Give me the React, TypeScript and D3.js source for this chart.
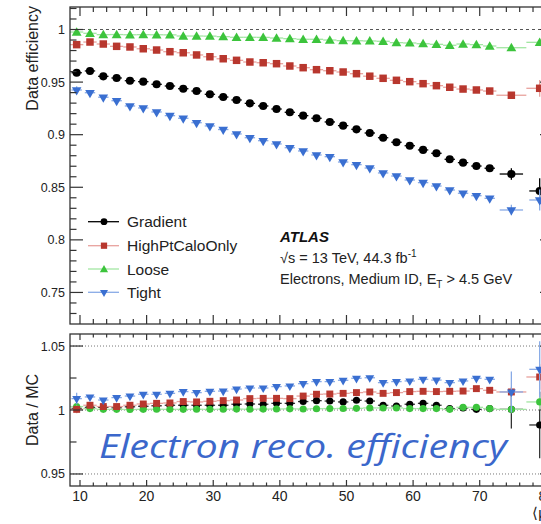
import { useRef, useEffect } from 'react'
import * as d3 from 'd3'

// bins in <mu>
const binCenters = [9.5, 11.5, 13.5, 15.5, 17.5, 19.5, 21.5, 23.5, 25.5, 27.5, 29.5, 31.5, 33.5, 35.5, 37.5, 39.5,
  41.5, 43.5, 45.5, 47.5, 49.5, 51.5, 53.5, 55.5, 57.5, 59.5, 61.5, 63.5, 65.5, 67.5, 69.5, 71.5, 74.75, 79]
const binHalfWidths = [1, 1, 1, 1, 1, 1, 1, 1, 1, 1, 1, 1, 1, 1, 1, 1,
  1, 1, 1, 1, 1, 1, 1, 1, 1, 1, 1, 1, 1, 1, 1, 1, 2.25, 2]

const gradientEff = [0.9589, 0.9606, 0.9555, 0.9539, 0.9513, 0.9504, 0.9479, 0.9463, 0.9437, 0.9415, 0.9384, 0.9358,
  0.9330, 0.9298, 0.9273, 0.9244, 0.9213, 0.9181, 0.9156, 0.9121, 0.9086, 0.9051, 0.9016, 0.8971, 0.8928, 0.8895,
  0.8855, 0.8823, 0.8766, 0.8734, 0.8702, 0.8681, 0.8626, 0.8465]
const highPtEff = [0.9856, 0.9881, 0.9862, 0.9840, 0.9834, 0.9817, 0.9805, 0.9789, 0.9779, 0.9758, 0.9741, 0.9722,
  0.9707, 0.9691, 0.9684, 0.9675, 0.9653, 0.9637, 0.9618, 0.9608, 0.9596, 0.9580, 0.9556, 0.9536, 0.9517, 0.9504,
  0.9485, 0.9466, 0.9451, 0.9434, 0.9425, 0.9415, 0.9375, 0.9441]
const looseEff = [0.9976, 0.9964, 0.9951, 0.9952, 0.9950, 0.9951, 0.9950, 0.9949, 0.9938, 0.9938, 0.9937, 0.9932,
  0.9926, 0.9926, 0.9925, 0.9919, 0.9913, 0.9907, 0.9907, 0.9900, 0.9894, 0.9893, 0.9891, 0.9888, 0.9875, 0.9872,
  0.9865, 0.9859, 0.9850, 0.9862, 0.9856, 0.9843, 0.9827, 0.9878]
const tightEff = [0.9425, 0.9399, 0.9356, 0.9323, 0.9273, 0.9254, 0.9216, 0.9181, 0.9156, 0.9114, 0.9083, 0.9049,
  0.9007, 0.8971, 0.8943, 0.8912, 0.8876, 0.8845, 0.8807, 0.8791, 0.8740, 0.8715, 0.8683, 0.8636, 0.8607, 0.8569,
  0.8544, 0.8512, 0.8474, 0.8443, 0.8420, 0.8395, 0.8284, 0.8379]

const gradientRatio = [1.0013, 1.0021, 1.0021, 1.0017, 1.0025, 1.0029, 1.0033, 1.0037, 1.0037, 1.0037, 1.0037, 1.0037,
  1.0045, 1.0047, 1.0045, 1.0052, 1.0052, 1.0066, 1.0073, 1.0070, 1.0063, 1.0076, 1.0070, 1.0037, 1.0031, 1.0045,
  1.0052, 1.0037, 1.0011, 1.0016, 1.0005, 1.0011, 1.0005, 0.9883]
const highPtRatio = [1.0005, 1.0037, 1.0027, 1.0027, 1.0037, 1.0047, 1.0052, 1.0055, 1.0066, 1.0063, 1.0068, 1.0073,
  1.0078, 1.0089, 1.0091, 1.0091, 1.0089, 1.0109, 1.0123, 1.0125, 1.0130, 1.0136, 1.0141, 1.0130, 1.0136, 1.0144,
  1.0146, 1.0144, 1.0146, 1.0148, 1.0167, 1.0154, 1.0141, 1.0258]
const looseRatio = [1.0027, 1.0011, 1.0005, 1.0005, 1.0004, 1.0005, 1.0006, 1.0005, 1.0005, 1.0006, 1.0005, 1.0006,
  1.0007, 1.0006, 1.0007, 1.0008, 1.0009, 1.0008, 1.0010, 1.0011, 1.0012, 1.0013, 1.0016, 1.0016, 1.0016, 1.0011,
  1.0011, 1.0011, 1.0005, 1.0021, 1.0021, 1.0011, 1.0005, 1.0063]
const tightRatio = [1.0089, 1.0102, 1.0078, 1.0097, 1.0109, 1.0123, 1.0123, 1.0130, 1.0144, 1.0136, 1.0146, 1.0148,
  1.0164, 1.0172, 1.0172, 1.0183, 1.0188, 1.0206, 1.0222, 1.0222, 1.0232, 1.0248, 1.0252, 1.0214, 1.0222, 1.0227,
  1.0240, 1.0234, 1.0214, 1.0227, 1.0248, 1.0240, 1.0141, 1.0318]

// stat. errors: first bin and the two wide high-<mu> bins, everything else tiny
const effErrFirst = [0.003, 0.002, 0.001, 0.0035]
const effErrTail = [[0.0055, 0.012], [0.003, 0.008], [0.002, 0.003], [0.005, 0.010]]
const ratioErrFirst = [0.003, 0.003, 0.002, 0.0045]
const ratioErrTail = [[0.015, 0.026], [0.004, 0.010], [0.003, 0.006], [0.016, 0.022]]

const seriesNames = ['Gradient', 'HighPtCaloOnly', 'Loose', 'Tight']
const xMajor = [10, 20, 30, 40, 50, 60, 70, 80]
const topMajor = [0.75, 0.8, 0.85, 0.9, 0.95, 1]
const topMajorLabels = ['0.75', '0.8', '0.85', '0.9', '0.95', '1']
const botMajor = [0.95, 1, 1.05]
const botMajorLabels = ['0.95', '1', '1.05']

const FONT = 'Liberation Sans, Arial, Helvetica, sans-serif'

export default function App() {
  const svgRef = useRef<SVGSVGElement>(null)

  useEffect(() => {
    if (!svgRef.current) return
    const svg = d3.select(svgRef.current)
    svg.selectAll('*').remove()

    const left = 70, right = 553
    const x = d3.scaleLinear().domain([8.5, 81]).range([left, right])
    const yTop = d3.scaleLinear().domain([0.72, 1.0214]).range([324, 7])
    const yBot = d3.scaleLinear().domain([0.9406, 1.0594]).range([486, 334])

    const styles = [
      { color: '#000000', bar: '#000000', frac: 0.78, shape: 'circle', size: 52, rshape: 'circle', rsize: 40 },
      { color: '#b8372e', bar: '#e8a29d', frac: 1, shape: 'square', size: 56, rshape: 'square', rsize: 48 },
      { color: '#3cc43c', bar: '#a2e6a2', frac: 1, shape: 'tri', size: 42, rshape: 'circle', rsize: 40 },
      { color: '#3a6fd1', bar: '#88aae6', frac: 0.78, shape: 'down', size: 40, rshape: 'down', rsize: 34 },
    ]
    const effData = [gradientEff, highPtEff, looseEff, tightEff]
    const ratioData = [gradientRatio, highPtRatio, looseRatio, tightRatio]

    const symbolPath = (shape: string, size: number) => {
      const t = shape === 'circle' ? d3.symbolCircle : shape === 'square' ? d3.symbolSquare : d3.symbolTriangle
      return d3.symbol().type(t).size(size)() as string
    }
    const markerTransform = (shape: string, cx: number, cy: number) =>
      shape === 'down' ? `translate(${cx},${cy}) rotate(180)` : shape === 'tri' ? `translate(${cx},${cy + 0.8})` : `translate(${cx},${cy})`

    const errAt = (i: number, s: number, first: number[], tail: number[][], dflt: number) => {
      if (i === 0) return first[s]
      if (i === binCenters.length - 2) return tail[s][0]
      if (i === binCenters.length - 1) return tail[s][1]
      return dflt
    }

    // reference lines
    svg.append('line')
      .attr('x1', left).attr('x2', right).attr('y1', yTop(1)).attr('y2', yTop(1))
      .attr('stroke', '#555').attr('stroke-width', 1).attr('stroke-dasharray', '3,3')
    botMajor.forEach(v => {
      svg.append('line')
        .attr('x1', left).attr('x2', right).attr('y1', yBot(v)).attr('y2', yBot(v))
        .attr('stroke', '#777').attr('stroke-width', 1).attr('stroke-dasharray', '1,2')
    })

    // data points with error bars
    const drawPanel = (y: d3.ScaleLinear<number, number>, data: number[][], ratio: boolean) => {
      const order = ratio ? [0, 2, 1, 3] : [2, 1, 0, 3]
      order.forEach(s => {
        const st = styles[s]
        const g = svg.append('g')
        data[s].forEach((v, i) => {
          const c = binCenters[i]
          const h = binHalfWidths[i] * st.frac
          const e = ratio ? errAt(i, s, ratioErrFirst, ratioErrTail, 0.0015) : errAt(i, s, effErrFirst, effErrTail, 0.001)
          const barCol = s === 0 && ratio ? '#333' : st.bar
          g.append('line')
            .attr('x1', x(c - h)).attr('x2', x(c + h)).attr('y1', y(v)).attr('y2', y(v))
            .attr('stroke', barCol).attr('stroke-width', 1.3)
          g.append('line')
            .attr('x1', x(c)).attr('x2', x(c)).attr('y1', y(v - e)).attr('y2', y(v + e))
            .attr('stroke', barCol).attr('stroke-width', 1.3)
          const shape = ratio ? st.rshape : st.shape
          g.append('path')
            .attr('d', symbolPath(shape, ratio ? st.rsize : st.size))
            .attr('transform', markerTransform(shape, x(c), y(v)))
            .attr('fill', st.color)
        })
      })
    }
    drawPanel(yTop, effData, false)
    drawPanel(yBot, ratioData, true)

    // frames and ticks
    const axisCol = '#333'
    const frame = (y0: number, y1: number) => {
      svg.append('rect')
        .attr('x', left).attr('y', y0).attr('width', right - left).attr('height', y1 - y0)
        .attr('fill', 'none').attr('stroke', axisCol).attr('stroke-width', 1.3)
    }
    frame(yTop.range()[1], yTop.range()[0])
    frame(yBot.range()[1], yBot.range()[0])

    const tick = (x1: number, y1: number, x2: number, y2: number) => {
      svg.append('line').attr('x1', x1).attr('y1', y1).attr('x2', x2).attr('y2', y2)
        .attr('stroke', axisCol).attr('stroke-width', 1.2)
    }
    const xMinor = d3.range(10, 81, 2).filter(v => v % 10 !== 0)
    const xTicks = (yA: number, yB: number, major: number, minor: number) => {
      xMajor.forEach(v => { tick(x(v), yA, x(v), yA - major); tick(x(v), yB, x(v), yB + major) })
      xMinor.forEach(v => { tick(x(v), yA, x(v), yA - minor); tick(x(v), yB, x(v), yB + minor) })
    }
    xTicks(yTop.range()[0], yTop.range()[1], 9, 5)
    xTicks(yBot.range()[0], yBot.range()[1], 6, 3.5)

    const topMinor = d3.range(73, 103).map(v => v / 100).filter(v => !topMajor.some(m => Math.abs(m - v) < 1e-6))
    topMajor.forEach(v => { tick(left, yTop(v), left + 13, yTop(v)); tick(right, yTop(v), right - 13, yTop(v)) })
    topMinor.forEach(v => { tick(left, yTop(v), left + 6.5, yTop(v)); tick(right, yTop(v), right - 6.5, yTop(v)) })
    botMajor.forEach(v => { tick(left, yBot(v), left + 13, yBot(v)); tick(right, yBot(v), right - 13, yBot(v)) })
    ;[0.975, 1.025].forEach(v => { tick(left, yBot(v), left + 6.5, yBot(v)); tick(right, yBot(v), right - 6.5, yBot(v)) })

    // tick labels
    topMajor.forEach((v, i) => {
      svg.append('text').attr('x', 65).attr('y', yTop(v) + 4.5).attr('text-anchor', 'end')
        .style('font-family', FONT).style('font-size', '12.5px').attr('fill', '#222').text(topMajorLabels[i])
    })
    botMajor.forEach((v, i) => {
      svg.append('text').attr('x', 65).attr('y', yBot(v) + 4.5).attr('text-anchor', 'end')
        .style('font-family', FONT).style('font-size', '12.5px').attr('fill', '#222').text(botMajorLabels[i])
    })
    xMajor.forEach(v => {
      svg.append('text').attr('x', x(v)).attr('y', 501).attr('text-anchor', 'middle')
        .style('font-family', FONT).style('font-size', '14px').attr('fill', '#222').text(String(v))
    })

    // axis titles
    svg.append('text').attr('transform', `translate(38,6) rotate(-90)`).attr('text-anchor', 'end')
      .style('font-family', FONT).style('font-size', '16px').attr('fill', '#222').text('Data efficiency')
    svg.append('text').attr('transform', `translate(38,${yBot(1)}) rotate(-90)`).attr('text-anchor', 'middle')
      .style('font-family', FONT).style('font-size', '16px').attr('fill', '#222').text('Data / MC')
    svg.append('text').attr('x', right).attr('y', 518).attr('text-anchor', 'end')
      .style('font-family', FONT).style('font-size', '15px').attr('fill', '#222').text('⟨μ⟩')

    // legend
    const legRows = [221.7, 245.7, 269, 292.3]
    seriesNames.forEach((name, s) => {
      const st = styles[s]
      const ly = legRows[s]
      svg.append('line').attr('x1', 88).attr('x2', 119).attr('y1', ly).attr('y2', ly)
        .attr('stroke', st.bar).attr('stroke-width', 1.3)
      svg.append('path').attr('d', symbolPath(st.shape, st.size * 0.7))
        .attr('transform', markerTransform(st.shape, 104, ly)).attr('fill', st.color)
      svg.append('text').attr('x', 127).attr('y', ly + 5.5)
        .style('font-family', FONT).style('font-size', '15.5px').attr('fill', '#222').text(name)
    })

    // ATLAS label
    svg.append('text').attr('x', 280).attr('y', 242)
      .style('font-family', FONT).style('font-size', '15px').style('font-weight', 'bold').style('font-style', 'italic')
      .attr('fill', '#111').text('ATLAS')
    const l2 = svg.append('text').attr('x', 280).attr('y', 262.5)
      .style('font-family', FONT).style('font-size', '14.5px').attr('fill', '#222')
    l2.append('tspan').text('√s = 13 TeV, 44.3 fb')
    l2.append('tspan').attr('dy', -6).style('font-size', '10px').text('-1')
    const l3 = svg.append('text').attr('x', 280).attr('y', 283.5)
      .style('font-family', FONT).style('font-size', '14.5px').attr('fill', '#222')
    l3.append('tspan').text('Electrons, Medium ID, E')
    l3.append('tspan').attr('dy', 4).style('font-size', '10px').text('T')
    l3.append('tspan').attr('dy', -4).text(' > 4.5 GeV')

    // overlay caption
    svg.append('text').attr('x', 99).attr('y', 458)
      .attr('textLength', 408).attr('lengthAdjust', 'spacingAndGlyphs')
      .style('font-family', '"Open Sans", sans-serif').style('font-style', 'italic').style('font-size', '33px')
      .attr('fill', '#3b67cb').text('Electron reco. efficiency')
  }, [])

  return (
    <svg ref={svgRef} width={541} height={524}
      style={{ position: 'absolute', left: 0, top: 0, background: '#fff' }} />
  )
}
